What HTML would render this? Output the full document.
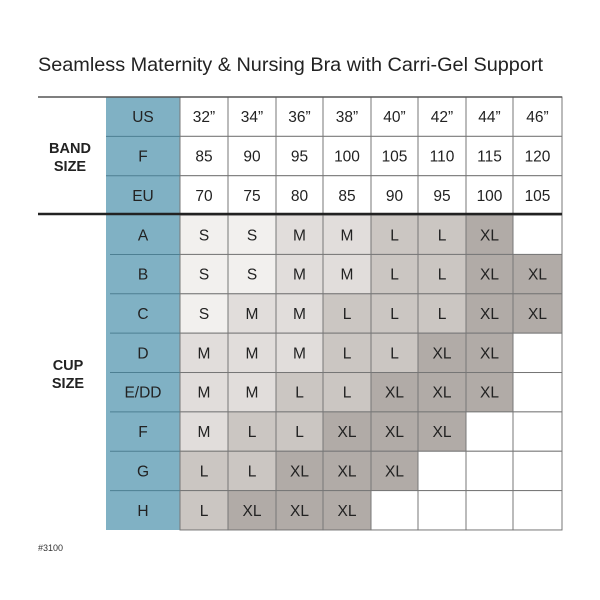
<!DOCTYPE html>
<html><head><meta charset="utf-8"><style>
html,body{margin:0;padding:0;background:#fff;}
svg{display:block;font-family:"Liberation Sans",sans-serif;}
</style></head><body>
<svg width="600" height="600" viewBox="0 0 600 600" xmlns="http://www.w3.org/2000/svg">
<rect width="600" height="600" fill="#fff"/>
<text x="38" y="71" font-size="19.8" fill="#222" textLength="505" lengthAdjust="spacingAndGlyphs">Seamless Maternity &amp; Nursing Bra with Carri-Gel Support</text>
<rect x="106" y="97" width="74" height="433" fill="#80b1c4"/>
<g id="cells"></g>
<g font-size="15.5" fill="#222" text-anchor="middle" id="txt"></g>
<line x1="38" y1="97" x2="562" y2="97" stroke="#555" stroke-width="1.5"/>
<line x1="38" y1="214" x2="562" y2="214" stroke="#222" stroke-width="2.5"/>
<g font-size="14.5" font-weight="bold" fill="#222" text-anchor="middle">
<text x="70" y="153">BAND</text><text x="70" y="171">SIZE</text>
<text x="68" y="370">CUP</text><text x="68" y="388">SIZE</text>
</g>
<text x="38" y="551" font-size="9" fill="#333">#3100</text>
<script>
var xs=[180,228,276,323,371,418,466,513,562];
var rh=39.36,y0=97;
var head=[["US",["32”","34”","36”","38”","40”","42”","44”","46”"]],["F",["85","90","95","100","105","110","115","120"]],["EU",["70","75","80","85","90","95","100","105"]]];
var cup=[["A","S S M M L L XL -"],["B","S S M M L L XL XL"],["C","S M M L L L XL XL"],["D","M M M L L XL XL -"],["E/DD","M M L L XL XL XL -"],["F","M L L XL XL XL - -"],["G","L L XL XL XL - - -"],["H","L XL XL XL - - - -"]];
var col={S:"#f2f0ee",M:"#e1dddb",L:"#cbc6c2",XL:"#b1aba7","-":"#fff"};
var ns="http://www.w3.org/2000/svg",cells=document.getElementById("cells"),txt=document.getElementById("txt");
function el(p,t,a,s){var e=document.createElementNS(ns,t);for(var k in a)e.setAttribute(k,a[k]);if(s!=null)e.textContent=s;p.appendChild(e);return e;}
var rows=[];head.forEach(function(h){rows.push([h[0],h[1],false]);});
cup.forEach(function(c){rows.push([c[0],c[1].split(" "),true]);});
rows.forEach(function(r,i){
 var y=y0+i*rh,cy=y+rh/2+5.5;
 el(txt,"text",{x:143,y:cy},r[0]);
 for(var j=0;j<8;j++){
  var v=r[1][j];
  var f=r[2]?col[v]:"#fff";
  el(cells,"rect",{x:xs[j],y:y,width:xs[j+1]-xs[j],height:rh,fill:f,stroke:"#777","stroke-width":1});
  if(v!="-")el(txt,"text",{x:(xs[j]+xs[j+1])/2,y:cy},v);
 }
 if(i>0&&i!=3)el(cells,"line",{x1:r[2]?110:106,y1:y,x2:180,y2:y,stroke:"#4d7f92","stroke-width":1});
});
</script>
</svg>
</body></html>
